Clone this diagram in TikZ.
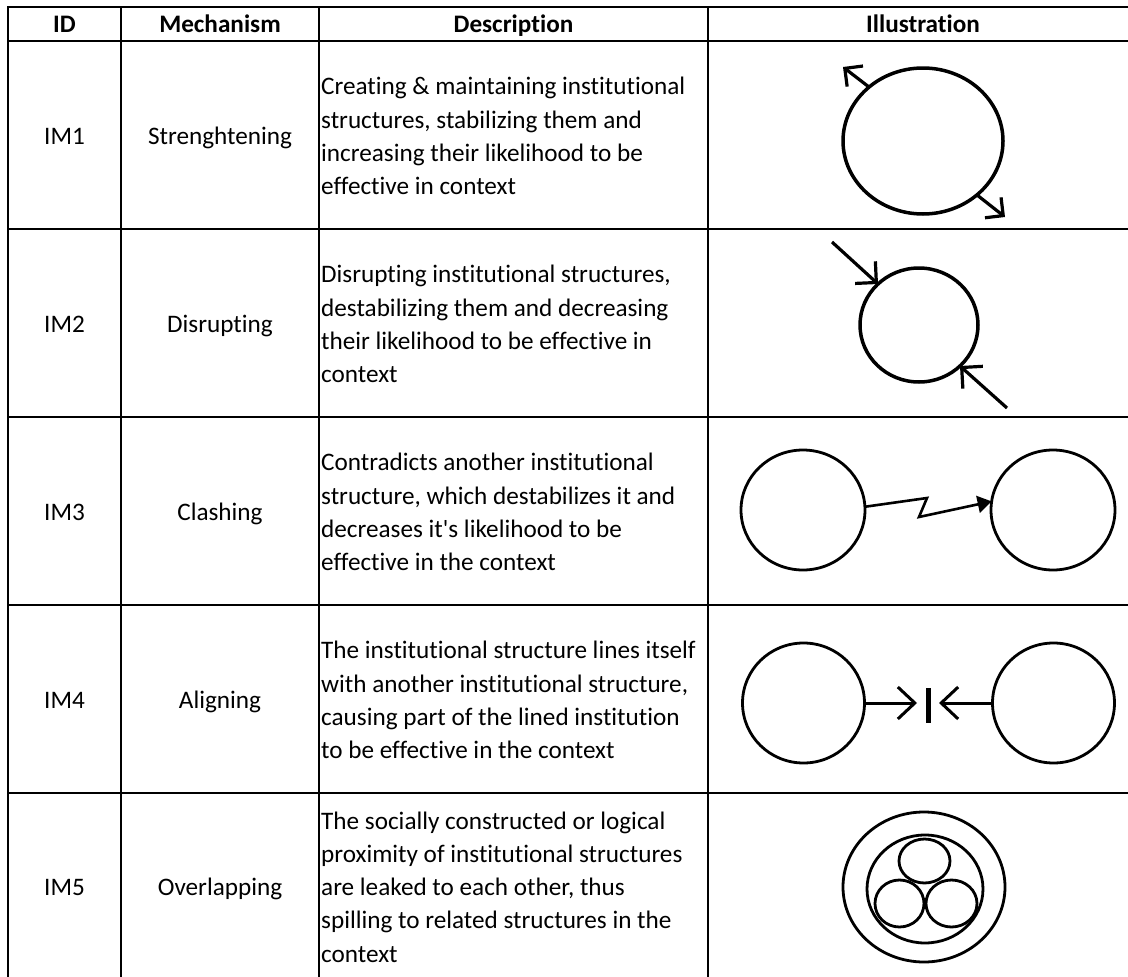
\documentclass[tikz,border=0pt]{standalone}
\usepackage{fontspec}
\setmainfont{Carlito}[Ligatures={NoCommon,TeXOff}]
\usetikzlibrary{shapes.geometric,arrows.meta}

\begin{document}
\begin{tikzpicture}[x=1pt,y=-1pt,
  txt/.style={font=\fontsize{25.2}{33.3}\selectfont, inner sep=0pt, anchor=base},
  head/.style={font=\fontsize{25.2}{33.3}\selectfont\bfseries, inner sep=0pt, anchor=base},
  desc/.style={font=\fontsize{25.2}{33.3}\selectfont, inner sep=0pt, anchor=west, align=left},
  rule/.style={line width=2pt},
  ring/.style={draw, ellipse, inner sep=0pt, outer sep=0pt, line width=3.5pt},
  thinring/.style={ring, line width=2.8pt},
  barb/.style={line width=3.2pt, -{Straight Barb[length=13pt,width=26pt]}},
  barbin/.style={line width=3.2pt, -{Straight Barb[length=15pt,width=30pt]}},
  barbwide/.style={line width=3pt, -{Straight Barb[length=17pt,width=32pt]}},
  zig/.style={line width=2.6pt, line join=miter, -{Triangle[length=14pt,width=17pt]}}
]
\useasboundingbox (0,0) rectangle (1128,977);
\fill[white] (0,0) rectangle (1128,977);

% table rules
\foreach \y in {7,41,229,417,605,793}
  \draw[rule] (7,\y) -- (1128,\y);
\foreach \x in {8,121,319,708}
  \draw[rule] (\x,6) -- (\x,977);

% header
\node[head] (hid)   at (64.5,32) {ID};
\node[head] (hmech) at (220,32) {Mechanism};
\node[head] (hdesc) at (513.5,32) {Description};
\node[head] (hill)  at (923,32) {Illustration};

% ids and mechanisms
\node[txt] (id1) at (64.5,144) {IM1};
\node[txt] (id2) at (64.5,332) {IM2};
\node[txt] (id3) at (64.5,520) {IM3};
\node[txt] (id4) at (64.5,708) {IM4};
\node[txt] (id5) at (64.5,895) {IM5};
\node[txt] (m1) at (220,144) {Strenghtening};
\node[txt] (m2) at (220,332) {Disrupting};
\node[txt] (m3) at (220,520) {Clashing};
\node[txt] (m4) at (220,708) {Aligning};
\node[txt] (m5) at (220,895) {Overlapping};

% descriptions
\node[desc] (d1) at (321,136) {Creating \& maintaining institutional\\structures, stabilizing them and\\increasing their likelihood to be\\effective in context};
\node[desc] (d2) at (321,324) {Disrupting institutional structures,\\destabilizing them and decreasing\\their likelihood to be effective in\\context};
\node[desc] (d3) at (321,512) {Contradicts another institutional\\structure, which destabilizes it and\\decreases it's likelihood to be\\effective in the context};
\node[desc] (d4) at (321,700) {The institutional structure lines itself\\with another institutional structure,\\causing part of the lined institution\\to be effective in the context};
\node[desc] (d5) at (321,887) {The socially constructed or logical\\proximity of institutional structures\\are leaked to each other, thus\\spilling to related structures in the\\context};

% IM1: growing structure
\node[ring, minimum width=160pt, minimum height=146pt] (c1) at (923,141) {};
\coordinate (t1a) at (843,67);
\coordinate (t1b) at (1005,217);
\draw[barb] (c1.135) -- (t1a);
\draw[barb] (c1.-45) -- (t1b);

% IM2: pressed structure
\node[ring, minimum width=118pt, minimum height=114pt] (c2) at (919,325) {};
\coordinate (s2a) at (832,242);
\coordinate (s2b) at (1007,408);
\draw[barbin] (s2a) -- (c2.135);
\draw[barbin] (s2b) -- (c2.-45);

% IM3: clashing structures
\node[thinring, minimum width=124pt, minimum height=120pt] (c3a) at (803,510) {};
\node[thinring, minimum width=124pt, minimum height=120pt] (c3b) at (1053,510) {};
\draw[zig] (c3a.3) -- (927,498) -- (919,517) -- (c3b.172);

% IM4: aligning structures
\node[thinring, minimum width=122pt, minimum height=120pt] (c4a) at (803.5,703) {};
\node[thinring, minimum width=122pt, minimum height=120pt] (c4b) at (1053.5,703) {};
\coordinate (t4a) at (917,703);
\coordinate (t4b) at (939,703);
\coordinate (bar4top) at (928,688);
\coordinate (bar4bot) at (928,723);
\draw[barbwide] (c4a.east) -- (t4a);
\draw[barbwide] (c4b.west) -- (t4b);
\draw[line width=5pt] (bar4top) -- (bar4bot);

% IM5: nested, overlapping structures
\node[thinring, minimum width=162pt, minimum height=150pt] (o5) at (924,887) {};
\node[thinring, minimum width=116pt, minimum height=108pt] (i5) at (925,889) {};
\node[thinring, minimum width=51pt, minimum height=44pt] (s5a) at (924.5,861) {};
\node[thinring, minimum width=49pt, minimum height=47pt] (s5b) at (899.5,903.5) {};
\node[thinring, minimum width=51pt, minimum height=47pt] (s5c) at (951.5,903.5) {};
\end{tikzpicture}
\end{document}
